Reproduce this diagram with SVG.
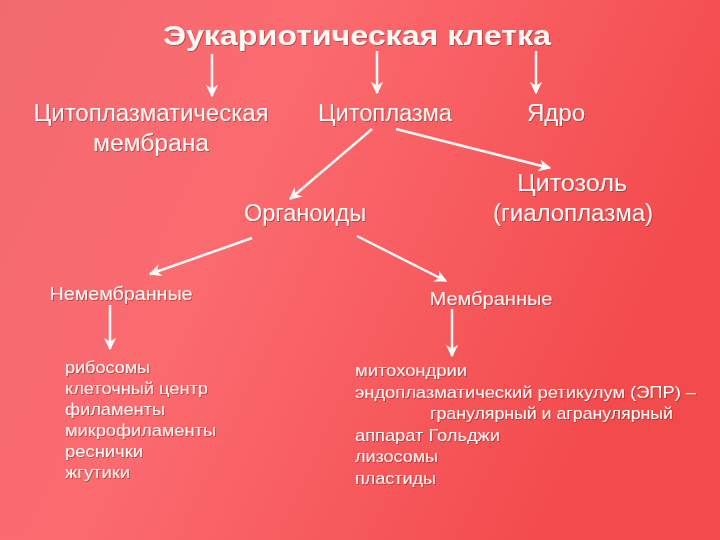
<svg xmlns="http://www.w3.org/2000/svg" width="720" height="540" viewBox="0 0 720 540">
<defs>
<linearGradient id="bg" x1="0" y1="0" x2="1" y2="0.35">
<stop offset="0" stop-color="#f26a70"/>
<stop offset="0.4" stop-color="#fb6b70"/>
<stop offset="1" stop-color="#f34a4c"/>
</linearGradient>
<filter id="sh" x="-5%" y="-20%" width="110%" height="140%">
<feDropShadow dx="1" dy="1" stdDeviation="0.6" flood-color="#7a1a1a" flood-opacity="0.45"/>
</filter>
<marker id="ah" viewBox="0 0 10 10" refX="9" refY="5" markerWidth="5" markerHeight="5" orient="auto" markerUnits="strokeWidth">
<path d="M0,0 L10,5 L0,10 L3,5 Z" fill="#fff8f4"/>
</marker>
<style>
text{font-family:"Liberation Sans","Arial",sans-serif;fill:#fff8f4;filter:url(#sh)}
.t{font-size:28px;font-weight:bold}
.l2{font-size:23px}
.l3{font-size:19px}
.li{font-size:17px}
.c{stroke:#fff8f4;stroke-width:2.5;fill:none;marker-end:url(#ah)}
</style>
</defs>
<rect width="720" height="540" fill="url(#bg)"/>
<g id="title"><text class="t" x="357" y="45" text-anchor="middle" textLength="388" lengthAdjust="spacingAndGlyphs">Эукариотическая клетка</text></g>
<g id="membrane"><text class="l2" x="151" y="121" text-anchor="middle" textLength="235" lengthAdjust="spacingAndGlyphs">Цитоплазматическая</text><text class="l2" x="151" y="151" text-anchor="middle" textLength="116" lengthAdjust="spacingAndGlyphs">мембрана</text></g>
<g id="cytoplasm"><text class="l2" x="385" y="121" text-anchor="middle" textLength="134" lengthAdjust="spacingAndGlyphs">Цитоплазма</text></g>
<g id="nucleus"><text class="l2" x="556" y="121" text-anchor="middle" textLength="58" lengthAdjust="spacingAndGlyphs">Ядро</text></g>
<g id="organoids"><text class="l2" x="305" y="221" text-anchor="middle" textLength="122" lengthAdjust="spacingAndGlyphs">Органоиды</text></g>
<g id="cytosol"><text class="l2" x="572" y="191" text-anchor="middle" textLength="110" lengthAdjust="spacingAndGlyphs">Цитозоль</text><text class="l2" x="573" y="221" text-anchor="middle" textLength="160" lengthAdjust="spacingAndGlyphs">(гиалоплазма)</text></g>
<g id="nonmembrane"><text class="l3" x="121" y="300" text-anchor="middle" textLength="143" lengthAdjust="spacingAndGlyphs">Немембранные</text></g>
<g id="membranous"><text class="l3" x="491" y="305" text-anchor="middle" textLength="123" lengthAdjust="spacingAndGlyphs">Мембранные</text></g>
<g id="list-nonmembrane">
<text class="li" x="65" y="373" textLength="85" lengthAdjust="spacingAndGlyphs">рибосомы</text>
<text class="li" x="65" y="394" textLength="143" lengthAdjust="spacingAndGlyphs">клеточный центр</text>
<text class="li" x="65" y="415" textLength="100" lengthAdjust="spacingAndGlyphs">филаменты</text>
<text class="li" x="65" y="436" textLength="151" lengthAdjust="spacingAndGlyphs">микрофиламенты</text>
<text class="li" x="65" y="457" textLength="78" lengthAdjust="spacingAndGlyphs">реснички</text>
<text class="li" x="65" y="478" textLength="65" lengthAdjust="spacingAndGlyphs">жгутики</text>
</g>
<g id="list-membrane">
<text class="li" x="355" y="376" textLength="112" lengthAdjust="spacingAndGlyphs">митохондрии</text>
<text class="li" x="355" y="398" textLength="341" lengthAdjust="spacingAndGlyphs">эндоплазматический ретикулум (ЭПР) –</text>
<text class="li" x="430" y="419" textLength="243" lengthAdjust="spacingAndGlyphs">гранулярный и агранулярный</text>
<text class="li" x="355" y="441" textLength="145" lengthAdjust="spacingAndGlyphs">аппарат Гольджи</text>
<text class="li" x="355" y="462" textLength="83" lengthAdjust="spacingAndGlyphs">лизосомы</text>
<text class="li" x="355" y="484" textLength="81" lengthAdjust="spacingAndGlyphs">пластиды</text>
</g>
<g id="connectors">
<line class="c" x1="212" y1="54" x2="212" y2="96"/>
<line class="c" x1="377" y1="51" x2="377" y2="93"/>
<line class="c" x1="536" y1="51" x2="536" y2="93"/>
<line class="c" x1="372" y1="129" x2="290" y2="199"/>
<line class="c" x1="396" y1="129" x2="550" y2="168"/>
<line class="c" x1="252" y1="238" x2="150" y2="274"/>
<line class="c" x1="357" y1="236" x2="446" y2="281"/>
<line class="c" x1="110" y1="305" x2="110" y2="349"/>
<line class="c" x1="452" y1="309" x2="452" y2="356"/>
</g>
</svg>
